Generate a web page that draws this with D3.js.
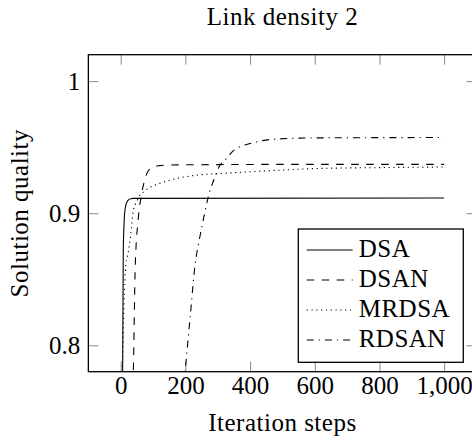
<!DOCTYPE html>
<html>
<head>
<meta charset="utf-8">
<script src="https://cdn.jsdelivr.net/npm/d3@7"></script>
<style>
  body { margin: 0; background: #fff; }
  text { font-family: "Liberation Serif", "DejaVu Serif", serif; fill: #000; }
</style>
</head>
<body>
<svg id="chart"></svg>
<script>
// values
const dsaSteps = [0, 6, 8, 11, 13, 17, 22, 30, 40, 1000];
const dsaQuality = [0.70, 0.78, 0.872, 0.895, 0.902, 0.907, 0.9095, 0.911, 0.9112, 0.9115];

const dsanSteps = [0, 39, 45, 54, 65, 75, 85, 100, 120, 150, 300, 600, 1000];
const dsanQuality = [0.60, 0.78, 0.860, 0.895, 0.915, 0.926, 0.932, 0.935, 0.936, 0.9365, 0.9368, 0.937, 0.937];

const mrdsaSteps = [0, 5, 10, 16, 23, 31, 39, 50, 60, 70, 85, 121, 173, 235, 307, 493, 617, 800, 1000];
const mrdsaQuality = [0.70, 0.78, 0.83, 0.861, 0.870, 0.8835, 0.902, 0.909, 0.9137, 0.916, 0.9188, 0.9226, 0.9263, 0.9288, 0.930, 0.9326, 0.9339, 0.9345, 0.935];

const rdsanSteps = [0, 199, 215, 230, 243, 257, 271, 289, 307, 327, 347, 370, 400, 462, 595, 800, 1000];
const rdsanQuality = [0.50, 0.78, 0.822, 0.861, 0.8798, 0.897, 0.9125, 0.926, 0.9364, 0.9414, 0.9470, 0.9505, 0.9527, 0.9558, 0.957, 0.9572, 0.9573];

const seriesNames = ['DSA', 'DSAN', 'MRDSA', 'RDSAN'];
const xTicks = [0, 200, 400, 600, 800, 1000];
const yTicks = [0.8, 0.9, 1];

const width = 472;
const height = 436;
const fontSize = 25;
const labelSpacing = '0.5px';

const svg = d3.select('#chart')
    .attr('width', width)
    .attr('height', height);

const plotLeft = 88.35, plotRight = 476.5, plotTop = 54.7, plotBottom = 371.7;

const x = d3.scaleLinear().domain([-100, 1100]).range([plotLeft, plotRight]);
const y = d3.scaleLinear().domain([0.78, 1.02]).range([plotBottom, plotTop]);

const series = [
    { name: seriesNames[0], steps: dsaSteps, values: dsaQuality, dash: null },
    { name: seriesNames[1], steps: dsanSteps, values: dsanQuality, dash: '7.5,7.5' },
    { name: seriesNames[2], steps: mrdsaSteps, values: mrdsaQuality, dash: '1.2,3.6' },
    { name: seriesNames[3], steps: rdsanSteps, values: rdsanQuality, dash: '7,5,1.2,5' }
];

svg.append('clipPath').attr('id', 'plotclip')
    .append('rect')
    .attr('x', plotLeft).attr('y', plotTop)
    .attr('width', plotRight - plotLeft).attr('height', plotBottom - plotTop);

// axes with inward ticks
function styleAxis(g) {
    g.select('.domain').remove();
    g.selectAll('.tick line').attr('stroke', '#8a8a8a').attr('stroke-width', 1);
    g.selectAll('.tick text')
        .style('font-family', '"Liberation Serif", "DejaVu Serif", serif')
        .style('font-size', fontSize + 'px');
}

svg.append('g')
    .attr('transform', 'translate(0,' + plotBottom + ')')
    .call(d3.axisBottom(x).tickValues(xTicks).tickFormat(d3.format(',')).tickSize(-10).tickPadding(5))
    .call(styleAxis);

svg.append('g')
    .attr('transform', 'translate(0,' + plotTop + ')')
    .call(d3.axisTop(x).tickValues(xTicks).tickFormat('').tickSize(-10))
    .call(styleAxis);

svg.append('g')
    .attr('transform', 'translate(' + plotLeft + ',0)')
    .call(d3.axisLeft(y).tickValues(yTicks).tickFormat(d => String(d)).tickSize(-10).tickPadding(8))
    .call(styleAxis);

svg.append('g')
    .attr('transform', 'translate(' + plotRight + ',0)')
    .call(d3.axisRight(y).tickValues(yTicks).tickFormat('').tickSize(-10))
    .call(styleAxis);

const line = d3.line()
    .x(d => x(d[0]))
    .y(d => y(d[1]))
    .curve(d3.curveMonotoneX);

const lines = svg.append('g').attr('clip-path', 'url(#plotclip)');
for (const s of series) {
    const pts = s.steps.map((st, i) => [st, s.values[i]]);
    lines.append('path')
        .attr('d', line(pts))
        .attr('fill', 'none')
        .attr('stroke', '#000')
        .attr('stroke-width', 1.1)
        .attr('stroke-dasharray', s.dash);
}

// frame
svg.append('rect')
    .attr('x', plotLeft).attr('y', plotTop)
    .attr('width', plotRight - plotLeft).attr('height', plotBottom - plotTop)
    .attr('fill', 'none')
    .attr('stroke', '#000')
    .attr('stroke-width', 1.3);

// legend
const legend = svg.append('g');
legend.append('rect')
    .attr('x', 298.3).attr('y', 229)
    .attr('width', 165).attr('height', 133.3)
    .attr('fill', '#fff')
    .attr('stroke', '#000')
    .attr('stroke-width', 1.3);
series.forEach((s, i) => {
    const ry = 250 + i * 30;
    legend.append('line')
        .attr('x1', 306.7).attr('x2', 352.7)
        .attr('y1', ry).attr('y2', ry)
        .attr('stroke', '#000')
        .attr('stroke-width', 1.1)
        .attr('stroke-dasharray', s.dash);
    legend.append('text')
        .attr('x', 358.7).attr('y', ry + 7)
        .style('font-size', fontSize + 'px')
        .style('letter-spacing', labelSpacing)
        .text(s.name);
});

// titles
const cx = (plotLeft + plotRight) / 2;
svg.append('text')
    .attr('x', cx).attr('y', 25)
    .attr('text-anchor', 'middle')
    .style('font-size', fontSize + 'px')
    .style('letter-spacing', labelSpacing)
    .text('Link density 2');

svg.append('text')
    .attr('x', cx).attr('y', 431)
    .attr('text-anchor', 'middle')
    .style('font-size', fontSize + 'px')
    .style('letter-spacing', labelSpacing)
    .text('Iteration steps');

svg.append('text')
    .attr('transform', 'translate(28,' + (plotTop + plotBottom) / 2 + ') rotate(-90)')
    .attr('text-anchor', 'middle')
    .style('font-size', fontSize + 'px')
    .style('letter-spacing', labelSpacing)
    .text('Solution quality');
</script>
</body>
</html>
